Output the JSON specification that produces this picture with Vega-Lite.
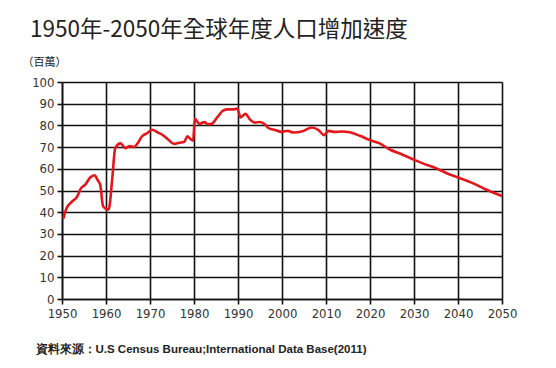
{
  "$schema": "https://vega.github.io/schema/vega-lite/v6.json",
  "autosize": "none",
  "width": 440,
  "height": 217,
  "padding": {"left": 62, "top": 82, "right": 54, "bottom": 69},
  "background": "white",
  "title": {
    "text": "1950年-2050年全球年度人口增加速度",
    "anchor": "start",
    "frame": "group",
    "dx": -32,
    "offset": 15,
    "font": "Noto Sans CJK TC",
    "fontSize": 22.5,
    "fontWeight": "normal",
    "color": "#222"
  },
  "data": {
    "values": [
      {"year": 1950.3, "v": 37.0},
      {"year": 1951.0, "v": 41.7},
      {"year": 1952.2, "v": 44.8},
      {"year": 1953.4, "v": 47.0},
      {"year": 1954.3, "v": 51.0},
      {"year": 1955.3, "v": 52.7},
      {"year": 1956.4, "v": 56.0},
      {"year": 1957.4, "v": 57.0},
      {"year": 1958.1, "v": 54.8},
      {"year": 1958.7, "v": 52.5},
      {"year": 1959.3, "v": 43.0},
      {"year": 1959.8, "v": 41.8},
      {"year": 1960.6, "v": 41.3},
      {"year": 1961.4, "v": 55.0},
      {"year": 1962.1, "v": 69.5},
      {"year": 1963.3, "v": 71.7},
      {"year": 1964.4, "v": 69.5},
      {"year": 1965.4, "v": 70.5},
      {"year": 1966.3, "v": 70.0},
      {"year": 1967.1, "v": 71.5},
      {"year": 1968.2, "v": 75.0},
      {"year": 1969.4, "v": 76.5},
      {"year": 1970.5, "v": 78.0},
      {"year": 1971.7, "v": 76.8},
      {"year": 1972.8, "v": 75.7},
      {"year": 1974.0, "v": 73.7},
      {"year": 1975.5, "v": 71.5},
      {"year": 1976.6, "v": 72.0},
      {"year": 1977.8, "v": 72.5},
      {"year": 1978.5, "v": 75.0},
      {"year": 1979.2, "v": 73.7},
      {"year": 1979.8, "v": 73.0},
      {"year": 1980.2, "v": 83.0},
      {"year": 1981.2, "v": 80.7},
      {"year": 1982.4, "v": 81.5},
      {"year": 1983.1, "v": 80.5},
      {"year": 1984.0, "v": 80.7},
      {"year": 1985.4, "v": 84.0},
      {"year": 1986.6, "v": 86.8},
      {"year": 1987.7, "v": 87.4},
      {"year": 1988.9, "v": 87.4},
      {"year": 1989.8, "v": 87.8},
      {"year": 1990.6, "v": 83.7},
      {"year": 1991.7, "v": 85.3},
      {"year": 1992.7, "v": 82.8},
      {"year": 1993.8, "v": 81.3},
      {"year": 1995.0, "v": 81.6},
      {"year": 1996.1, "v": 80.5},
      {"year": 1996.9, "v": 78.8},
      {"year": 1998.4, "v": 77.9},
      {"year": 1999.9, "v": 77.0},
      {"year": 2001.3, "v": 77.5},
      {"year": 2002.6, "v": 76.7},
      {"year": 2004.5, "v": 77.2},
      {"year": 2006.8, "v": 79.0},
      {"year": 2008.3, "v": 77.8},
      {"year": 2009.6, "v": 75.5},
      {"year": 2010.5, "v": 77.5},
      {"year": 2012.0, "v": 77.0},
      {"year": 2013.5, "v": 77.2},
      {"year": 2015.4, "v": 76.8},
      {"year": 2017.7, "v": 75.2},
      {"year": 2020.0, "v": 73.2},
      {"year": 2022.2, "v": 71.7},
      {"year": 2024.4, "v": 69.0},
      {"year": 2027.4, "v": 66.5},
      {"year": 2030.0, "v": 64.2},
      {"year": 2032.0, "v": 62.5},
      {"year": 2035.0, "v": 60.3},
      {"year": 2037.2, "v": 58.2},
      {"year": 2040.0, "v": 56.0},
      {"year": 2043.2, "v": 53.5},
      {"year": 2046.2, "v": 50.6},
      {"year": 2050.0, "v": 47.5}
    ]
  },
  "mark": {"type": "line", "color": "#e3161c", "strokeWidth": 2.6, "interpolate": "monotone"},
  "encoding": {
    "x": {
      "field": "year",
      "type": "quantitative",
      "scale": {"domain": [1950, 2050], "nice": false, "zero": false},
      "axis": {
        "values": [1950, 1960, 1970, 1980, 1990, 2000, 2010, 2020, 2030, 2040, 2050],
        "format": "d",
        "labelFlush": false,
        "labelOverlap": false,
        "grid": true,
        "gridColor": "#111",
        "gridWidth": 1.6,
        "gridOpacity": 1,
        "domainColor": "#111",
        "domainWidth": 1.6,
        "tickColor": "#111",
        "tickWidth": 1.6,
        "tickSize": 5,
        "labelFont": "DejaVu Sans Condensed, Roboto, sans-serif",
        "labelFontSize": 13,
        "labelColor": "#333",
        "labelPadding": 3,
        "title": "資料來源：U.S Census Bureau;International Data Base(2011)",
        "titleFont": "Liberation Sans",
        "titleFontSize": 11.5,
        "titleFontWeight": "bold",
        "titleColor": "#222",
        "titleAnchor": "start",
        "titleAlign": "left",
        "titleBaseline": "middle",
        "titleX": -27,
        "titleY": 50
      }
    },
    "y": {
      "field": "v",
      "type": "quantitative",
      "scale": {"domain": [0, 100], "nice": false},
      "axis": {
        "values": [0, 10, 20, 30, 40, 50, 60, 70, 80, 90, 100],
        "labelFlush": false,
        "labelOverlap": false,
        "grid": true,
        "gridColor": "#111",
        "gridWidth": 1.6,
        "gridOpacity": 1,
        "domainColor": "#111",
        "domainWidth": 1.6,
        "tickColor": "#111",
        "tickWidth": 1.6,
        "tickSize": 5,
        "labelFont": "DejaVu Sans Condensed, Roboto, sans-serif",
        "labelFontSize": 13,
        "labelColor": "#333",
        "labelPadding": 3,
        "title": "（百萬）",
        "titleFont": "Noto Sans CJK TC",
        "titleFontSize": 11,
        "titleFontWeight": "normal",
        "titleColor": "#222",
        "titleAngle": 0,
        "titleAlign": "left",
        "titleBaseline": "middle",
        "titleX": -40,
        "titleY": -20
      }
    }
  },
  "config": {"view": {"stroke": null}}
}
